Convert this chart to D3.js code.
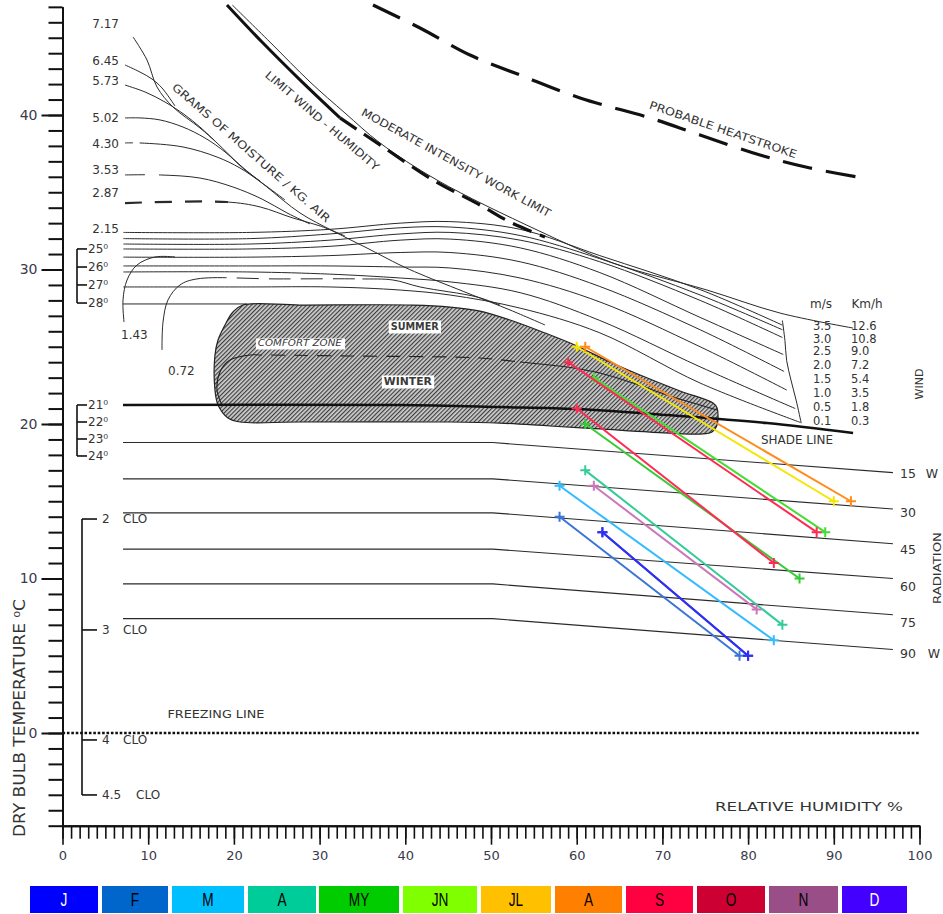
<!DOCTYPE html>
<html>
<head>
<meta charset="utf-8">
<title>Bioclimatic chart</title>
<script src="https://cdn.jsdelivr.net/npm/d3@7/dist/d3.min.js"></script>
<style>
  html,body{margin:0;padding:0;background:#fff;}
  svg{display:block;}
  text{font-family:"DejaVu Sans",Verdana,sans-serif;fill:#333;}
</style>
</head>
<body>
<svg id="chart" width="943" height="914"></svg>
<script>
// ---------- Monthly climate lines: (RH at Tmax, Tmax) -> (RH at Tmin, Tmin) ----------
const months     = ["J","F","M","A","MY","JN","JL","A","S","O","N","D"];
const legendFill = ["#0000ff","#0066cc","#00bfff","#00cc99","#00cc00","#80ff00","#ffc000","#ff8000","#ff0040","#cc0033","#9a4e88","#4400ff"];
const legendInk  = ["#fff","#000","#000","#000","#000","#000","#000","#000","#000","#000","#000","#fff"];
const lineColors = ["#2b2bff","#3a74d6","#33bbff","#33cc99","#33cc33","#44dd33","#f5e600","#ff8c1a","#ff2a55","#ff2a55","#cc77bb","#3030f0"];
const rhAtTmax   = [63,58,58,61,61,62,60,61,59,60,62,63];
const tMax       = [13,14,16,17,20,23,25,25,24,21,16,13];
const rhAtTmin   = [80,79,83,84,86,89,90,92,88,83,81,80];
const tMin       = [5,5,6,7,10,13,15,15,13,11,8,5];

// ---------- Reference curves of the bioclimatic chart, [RH %, T °C] ----------
const comfortZone = [[21.06,27.70],[27.71,27.70],[40.89,27.70],[45.22,27.57],[48.72,27.31],[52.22,26.73],[56.30,25.89],[60.03,25.05],[63.89,24.01],[67.39,23.17],[72.06,22.14],[75.91,21.36],[76.38,21.04],[76.38,19.94],[75.79,19.48],[74.39,19.35],[68.56,19.48],[62.72,19.68],[56.88,19.87],[51.05,20.06],[45.22,20.13],[27.71,20.13],[20.71,20.13],[19.31,20.39],[18.15,21.23],[17.79,22.20],[17.79,24.47],[18.15,25.44],[18.96,26.41],[19.89,27.25]];
const seasonDivide = [[18.61,21.23],[18.03,22.20],[18.38,23.37],[19.54,24.14],[21.88,24.47],[23.0,24.47],[33.55,24.40],[48.72,24.27],[53.38,24.01],[58.90,23.69],[62.72,23.30],[66.57,22.65],[70.54,21.88],[74.39,21.23],[76.38,20.91]];
const shadeLine = [[7.06,21.23],[39.38,21.23],[51.05,21.10],[60.03,20.97],[70.54,20.58],[82.21,20.06],[92.25,19.42]];

const radiationW     = ["15","30","45","60","75","90"];
const radiationStart = [18.8,16.45,14.25,11.9,9.65,7.4];
const radiationEnd   = [16.85,14.5,12.25,10.0,7.65,5.4];
const radiationRH    = [7.06,50.2,96.9];

const windMs  = ["3.5","3.0","2.5","2.0","1.5","1.0","0.5","0.1"];
const windKmh = ["12.6","10.8","9.0","7.2","5.4","3.5","1.8","0.3"];
const windLines = [
  [[7.1,32.4],[21.9,32.4],[31.2,32.6],[39.4,33.0],[45.2,33.1],[53.4,32.6],[62.7,30.9],[74.4,28.7],[84.0,26.4]],
  [[7.1,32.0],[21.9,32.0],[31.2,32.3],[39.4,32.7],[45.2,32.75],[53.4,32.2],[62.7,30.7],[74.4,28.35],[84.0,26.1]],
  [[7.1,31.65],[21.9,31.65],[31.2,31.9],[39.4,32.3],[45.2,32.4],[53.4,31.9],[62.7,30.5],[74.4,28.0],[84.0,25.6]],
  [[7.1,31.33],[21.9,31.33],[31.2,31.5],[39.4,31.9],[45.2,31.97],[53.4,31.4],[62.7,29.8],[74.4,26.9],[84.1,24.5]],
  [[7.1,30.8],[21.9,30.8],[31.2,30.9],[39.4,31.1],[45.2,31.1],[53.4,30.5],[62.7,28.9],[74.4,26.1],[84.2,23.4]],
  [[7.1,30.23],[21.9,30.23],[31.2,30.23],[39.4,30.16],[45.2,30.1],[53.4,29.45],[62.7,27.9],[74.4,25.0],[84.5,22.2]],
  [[7.1,29.84],[21.9,29.84],[31.2,29.7],[39.4,29.45],[45.2,29.2],[53.4,28.5],[62.7,26.7],[74.4,23.7],[85.5,21.0]],
  [[7.1,28.87],[21.9,28.87],[31.2,28.87],[39.4,28.67],[45.2,28.35],[53.4,27.5],[62.7,25.9],[74.4,22.65],[86.1,20.1]]
];
const windEnd = [[84.0,26.7],[84.3,25.4],[84.5,24.1],[85.0,22.85],[85.6,21.55],[86.2,20.05]];

const moistureLabels = ["7.17","6.45","5.73","5.02","4.30","3.53","2.87","2.15"];
const moistureLabelT = [45.9,43.5,42.2,39.8,38.1,36.45,34.95,32.6];
const g717 = [[8.23,45.05],[9.86,43.56],[11.03,41.81],[12.89,40.52],[16.04,39.16],[18.03,38.19],[20.71,36.76],[23.86,35.34],[27.71,33.66],[31.56,32.49],[35.53,31.39],[39.38,30.29],[41.72,29.71],[47.55,28.41],[52.22,27.38],[56.30,26.41]];
const g645 = [[7.29,43.24],[9.04,42.78],[10.44,42.33],[11.61,41.75],[13.13,40.58]];
const g573 = [[7.29,41.94],[9.63,41.49],[11.96,40.84],[14.29,40.0],[16.04,39.22],[17.79,38.32]];
const g502 = [[7.29,39.81],[9.04,39.81],[11.38,39.68],[14.06,39.22],[16.63,38.51],[18.96,37.61],[21.30,36.44],[23.05,35.73]];
const g430 = [[7.29,38.19],[9.04,38.19],[14.06,37.93],[18.03,37.28],[20.71,36.57],[23.28,35.60],[25.96,34.50]];
const g353 = [[7.29,36.12],[11.38,36.12],[16.04,35.92],[19.89,35.34],[23.28,34.56],[26.20,33.66],[28.88,32.95]];
const g287 = [[7.29,34.30],[19.19,34.37],[23.05,34.05],[26.90,33.33],[30.05,32.82],[32.96,32.17]];
const g143 = [[7.18,26.60],[7.06,28.03],[7.53,29.32],[8.69,30.29],[10.79,30.81],[13.13,30.81]];
const g072 = [[11.61,24.79],[11.73,26.60],[12.31,28.03],[13.71,29.0],[15.69,29.39],[25.03,29.39],[34.71,29.39],[38.56,29.32],[41.72,28.87],[48.37,28.22],[51.05,27.70]];
const line28 = [[7.06,27.77],[21.5,27.77]];

const workLimit     = [[19.81,47.12],[24.21,44.72],[28.88,42.14],[32.96,40.13],[37.05,38.19],[43.70,35.79],[55.37,32.56],[64.24,30.42],[75.21,28.67],[83.73,27.18],[92.25,26.21]];
const windHumSolid  = [[19.19,47.12],[23.28,44.72],[27.71,42.27],[32.38,39.81]];
const windHumDashed = [[32.38,39.81],[37.40,37.93],[43.23,35.79],[48.72,34.17],[52.22,33.07],[56.30,32.10]];
const heatstroke    = [[36.23,47.12],[41.72,45.63],[47.55,43.88],[53.38,42.59],[60.39,41.10],[68.56,39.81],[74.39,38.71],[81.39,37.41],[87.23,36.57],[92.71,35.99]];

const hotBracketT  = [31.33,30.16,29.0,27.83];
const hotBracketL  = ["25⁰","26⁰","27⁰","28⁰"];
const coolBracketT = [21.23,20.13,19.03,17.93];
const coolBracketL = ["21⁰","22⁰","23⁰","24⁰"];
const cloT = [13.85,6.67,-0.45,-4.01];
const cloL = ["2","3","4","4.5"];
const windLabelT = [26.34,25.53,24.72,23.82,22.91,22.01,21.10,20.19];

// ---------- Layout ----------
const W = 943, H = 914;
const svg = d3.select("#chart");
const defs = svg.append("defs");
const x = d3.scaleLinear().domain([0,100]).range([62.5,919.5]);
const y = d3.scaleLinear().domain([-6,47]).range([825.7,6.85]);
const ink = "#2a2a2a";

const pat = defs.append("pattern").attr("id","hatch").attr("patternUnits","userSpaceOnUse")
  .attr("width",3).attr("height",3).attr("patternTransform","rotate(45)");
pat.append("rect").attr("width",3).attr("height",3).attr("fill","#cfcfcf");
pat.append("line").attr("x1",0.6).attr("y1",0).attr("x2",0.6).attr("y2",3).attr("stroke","#383838").attr("stroke-width",1.15);

const curveCR = d3.curveCatmullRom.alpha(0.5);
let clipCount = 0;
function curvePath(g, pts, o = {}) {
  const gen = d3.line().x(d => x(d[0])).y(d => y(d[1])).curve(o.curve || curveCR);
  const dStr = gen(pts);
  const color = o.color || ink, width = o.width || 1;
  if (!o.dashRange) {
    g.append("path").attr("d", dStr).attr("fill","none").attr("stroke",color)
      .attr("stroke-width",width).attr("stroke-dasharray",o.dash || null);
    return;
  }
  const [a, b, pattern, dw] = o.dashRange;
  const inId = "clip" + (clipCount++), outId = "clip" + (clipCount++);
  defs.append("clipPath").attr("id", inId).append("rect")
    .attr("x", x(a)).attr("y", 0).attr("width", x(b) - x(a)).attr("height", H);
  const out = defs.append("clipPath").attr("id", outId);
  out.append("rect").attr("x", 0).attr("y", 0).attr("width", x(a)).attr("height", H);
  out.append("rect").attr("x", x(b)).attr("y", 0).attr("width", W - x(b)).attr("height", H);
  g.append("path").attr("d", dStr).attr("fill","none").attr("stroke",color)
    .attr("stroke-width", dw || width).attr("stroke-dasharray", pattern).attr("clip-path", `url(#${inId})`);
  g.append("path").attr("d", dStr).attr("fill","none").attr("stroke",color)
    .attr("stroke-width", width).attr("clip-path", `url(#${outId})`);
}
function label(g, px, py, str, size, o = {}) {
  const t = g.append("text").attr("x", px).attr("y", py).attr("font-size", size)
    .attr("text-anchor", o.anchor || "start").attr("dominant-baseline", "central").text(str);
  if (o.len) t.attr("textLength", o.len).attr("lengthAdjust", "spacingAndGlyphs");
  if (o.rot != null) t.attr("transform", `rotate(${o.rot},${px},${py})`);
  if (o.fill) t.style("fill", o.fill);
  if (o.style) t.attr("font-style", o.style);
  if (o.weight) t.attr("font-weight", o.weight);
  return t;
}

const gLines = svg.append("g");

// radiation lines
radiationStart.forEach((t0, i) => {
  const pts = [[radiationRH[0], t0], [radiationRH[1], t0], [radiationRH[2], radiationEnd[i]]];
  curvePath(gLines, pts, {curve: d3.curveLinear, width: 1.1});
});

// wind lines and their closing curve
windLines.forEach(pts => curvePath(gLines, pts));
curvePath(gLines, windEnd);

// grams of moisture per kg of air
curvePath(gLines, g717);
curvePath(gLines, g645);
curvePath(gLines, g573);
curvePath(gLines, g502);
curvePath(gLines, g430, {dashRange: [7.2, 9.0, "8,7"]});
curvePath(gLines, g353, {dashRange: [7.2, 11.4, "20,14"]});
curvePath(gLines, g287, {dashRange: [7.2, 19.3, "17,13", 2.2]});
curvePath(gLines, g143);
curvePath(gLines, g072, {dashRange: [19.0, 35.0, "22,10"]});
curvePath(gLines, line28, {curve: d3.curveLinear});

// limits
curvePath(gLines, workLimit, {width: 1});
curvePath(gLines, windHumSolid, {width: 3, color: "#111"});
curvePath(gLines, windHumDashed, {width: 3.2, color: "#111", dash: "20,9"});
curvePath(gLines, heatstroke, {width: 3.2, color: "#111", dash: "30,14"});

// comfort zone
const gZone = svg.append("g");
gZone.append("path")
  .attr("d", d3.line().x(d => x(d[0])).y(d => y(d[1])).curve(d3.curveCatmullRomClosed.alpha(0.5))(comfortZone))
  .attr("fill", "url(#hatch)").attr("stroke", "#222").attr("stroke-width", 1.2);
curvePath(gZone, seasonDivide, {dashRange: [23.0, 53.4, "14,9"], width: 1.1, color: "#222"});

function boxedLabel(px, py, str, size, o = {}) {
  const t = label(gZone, px, py, str, size, Object.assign({anchor: "middle"}, o));
  const bb = t.node().getBBox();
  gZone.insert("rect", "text").attr("x", bb.x - 2).attr("y", bb.y - 1)
    .attr("width", bb.width + 4).attr("height", bb.height + 2).attr("fill", "#fff");
}
boxedLabel(x(41.1), y(26.28), "SUMMER", 10, {len: 48, weight: "bold", fill: "#3a3a3a"});
boxedLabel(x(27.7), y(25.18), "COMFORT ZONE", 8, {len: 84, style: "italic", fill: "#3a3a3a"});
boxedLabel(x(40.3), y(22.72), "WINTER", 10, {len: 48, weight: "bold", fill: "#3a3a3a"});

// shade line
curvePath(svg.append("g"), shadeLine, {width: 2.6, color: "#111"});

// freezing line
svg.append("line").attr("x1", x(0)).attr("x2", x(100)).attr("y1", y(0)).attr("y2", y(0))
  .attr("stroke", "#111").attr("stroke-width", 2.6).attr("stroke-dasharray", "2.6,1.8");

// ---------- Axes ----------
const gy = svg.append("g").attr("transform", `translate(${x(0)},0)`);
gy.append("g").call(d3.axisLeft(y).tickValues(d3.range(-6, 48)).tickSize(14).tickSizeOuter(0).tickFormat(""));
gy.append("g").call(d3.axisLeft(y).tickValues([0,10,20,30,40]).tickSize(21).tickSizeOuter(0).tickPadding(4));
gy.selectAll("path.domain").attr("stroke", "#111").attr("stroke-width", 2);
gy.selectAll(".tick line").attr("stroke", "#111").attr("stroke-width", 2);
gy.selectAll(".tick text").attr("font-size", 14).attr("font-family", "DejaVu Sans").style("fill", "#3a3a4a");

const gx = svg.append("g").attr("transform", `translate(0,${y(-6)})`);
gx.append("g").call(d3.axisBottom(x).tickValues(d3.range(0, 101)).tickSize(13).tickSizeOuter(0).tickFormat(""));
gx.append("g").call(d3.axisBottom(x).tickValues(d3.range(0, 101, 10)).tickSize(19).tickSizeOuter(0).tickPadding(6));
gx.selectAll("path.domain").attr("stroke", "#111").attr("stroke-width", 2);
gx.selectAll(".tick line").attr("stroke", "#111").attr("stroke-width", 1.6);
gx.selectAll(".tick text").attr("font-size", 13).attr("font-family", "DejaVu Sans").style("fill", "#3a3a4a");

// axis titles
label(svg, 20, 718, "DRY BULB TEMPERATURE ⁰C", 15, {anchor: "middle", rot: -90, len: 238});
label(svg, 809, 806, "RELATIVE HUMIDITY %", 13, {anchor: "middle", len: 188});

// ---------- Annotations ----------
const gA = svg.append("g");
moistureLabels.forEach((s, i) => label(gA, 119, y(moistureLabelT[i]), s, 12, {anchor: "end"}));
label(gA, 121, y(25.76), "1.43", 12);
label(gA, 168, y(23.43), "0.72", 12);

function bracket(xb, temps, tickLen) {
  gA.append("line").attr("x1", xb).attr("x2", xb).attr("y1", y(temps[0])).attr("y2", y(temps[temps.length - 1]))
    .attr("stroke", "#111").attr("stroke-width", 1.6);
  temps.forEach(t => {
    gA.append("line").attr("x1", xb).attr("x2", xb + tickLen).attr("y1", y(t)).attr("y2", y(t))
      .attr("stroke", "#111").attr("stroke-width", 1.6);
  });
}
bracket(77, hotBracketT, 10);
hotBracketT.forEach((t, i) => label(gA, 88, y(t), hotBracketL[i], 12));
bracket(77, coolBracketT, 10);
coolBracketT.forEach((t, i) => label(gA, 88, y(t), coolBracketL[i], 12));
bracket(82, cloT, 15);
cloT.forEach((t, i) => {
  label(gA, 102, y(t), cloL[i], 12);
  label(gA, i === 3 ? 136 : 123, y(t), "CLO", 12);
});

label(gA, x(17.9), y(1.17), "FREEZING LINE", 11, {anchor: "middle", len: 97});
label(gA, 797, 440, "SHADE LINE", 12, {anchor: "middle", len: 72});

// wind speed scale
label(gA, 821, 304, "m/s", 12, {anchor: "middle"});
label(gA, 867, 304, "Km/h", 12, {anchor: "middle"});
windMs.forEach((s, i) => {
  label(gA, 813, y(windLabelT[i]), s, 11.5);
  label(gA, 851, y(windLabelT[i]), windKmh[i], 11.5);
});
label(gA, 919, 384, "WIND", 11, {anchor: "middle", rot: -90});

// radiation scale
const radLabelY = [473, 512, 549, 586, 622, 653];
radiationW.forEach((s, i) => {
  label(gA, 908, radLabelY[i], s, 12.5, {anchor: "middle"});
});
label(gA, 932, 473, "W", 12.5, {anchor: "middle"});
label(gA, 934, 653, "W", 12.5, {anchor: "middle"});
label(gA, 937, 568, "RADIATION", 11, {anchor: "middle", rot: -90, len: 72});

// rotated limit labels
label(gA, 251, 153, "GRAMS OF MOISTURE  /  KG. AIR", 11, {anchor: "middle", rot: 41, len: 205});
label(gA, 322, 121, "LIMIT WIND - HUMIDITY", 11, {anchor: "middle", rot: 40.6, len: 146});
label(gA, 456, 163, "MODERATE INTENSITY WORK LIMIT", 11, {anchor: "middle", rot: 28.7, len: 214});
label(gA, 723, 130, "PROBABLE HEATSTROKE", 11, {anchor: "middle", rot: 18.8, len: 155});

// ---------- Monthly lines ----------
const gM = svg.append("g");
months.forEach((m, i) => {
  const a = [x(rhAtTmax[i]), y(tMax[i])], b = [x(rhAtTmin[i]), y(tMin[i])];
  gM.append("line").attr("x1", a[0]).attr("y1", a[1]).attr("x2", b[0]).attr("y2", b[1])
    .attr("stroke", lineColors[i]).attr("stroke-width", 2);
  [a, b].forEach(p => {
    gM.append("path").attr("d", `M${p[0] - 5},${p[1]}H${p[0] + 5}M${p[0]},${p[1] - 5}V${p[1] + 5}`)
      .attr("stroke", lineColors[i]).attr("stroke-width", 2);
  });
});

// ---------- Month legend ----------
const legendEdges = [[30,98],[102,168],[172,244],[248,316],[319,399],[403,477],[481,551],[555,622],[626,693],[697,765],[769,838],[842,907]];
const gL = svg.append("g");
months.forEach((m, i) => {
  const [l, r] = legendEdges[i];
  gL.append("rect").attr("x", l).attr("y", 886).attr("width", r - l).attr("height", 27).attr("fill", legendFill[i]);
  gL.append("text").attr("transform", `translate(${(l + r) / 2},900) scale(0.72,1)`)
    .attr("text-anchor", "middle").attr("dominant-baseline", "central")
    .attr("font-size", 19).style("font-family", "'Liberation Sans','DejaVu Sans',sans-serif")
    .style("fill", legendInk[i]).text(m);
});
</script>
</body>
</html>
